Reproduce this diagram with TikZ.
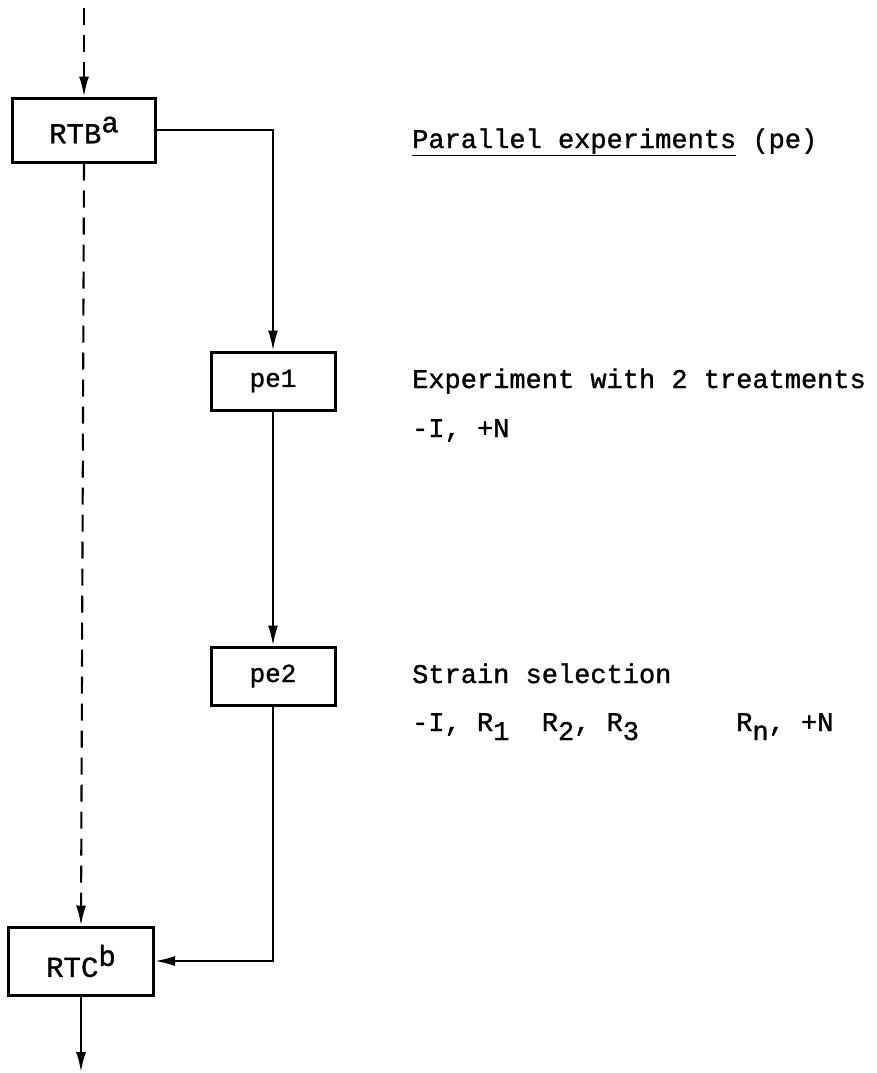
\documentclass[tikz,border=0pt]{standalone}
\usepackage{fontspec}
\setmonofont[FakeBold=1.2]{Liberation Mono}
\usetikzlibrary{arrows.meta}
\newcommand\lowr[1]{\raisebox{-9pt}{#1}}
\newcommand\highr[1]{\raisebox{11pt}{#1}}
\tikzset{
  box/.style={draw, line width=3pt, inner sep=0pt, font=\fontsize{26}{30}\selectfont\ttfamily},
  bigbox/.style={box, font=\fontsize{29}{34}\selectfont\ttfamily},
  conn/.style={line width=2.1pt, -{Latex[length=20pt,width=10pt]}},
  dashconn/.style={conn, dash pattern=on 17pt off 10pt},
  lbl/.style={anchor=base west, inner sep=0pt, font=\fontsize{27}{32}\selectfont\ttfamily},
}
\begin{document}
\begin{tikzpicture}[x=1pt,y=-1pt]
\useasboundingbox (0,0) rectangle (876,1073);
% boxes
\node[bigbox, minimum width=143pt, minimum height=64pt] (rtb) at (84,130) {RTB\highr{a}};
\node[box, minimum width=124pt, minimum height=58pt] (pe1) at (273,381) {pe1};
\node[box, minimum width=124pt, minimum height=58pt] (pe2) at (273,676) {pe2};
\node[bigbox, minimum width=145pt, minimum height=68pt] (rtc) at (81,961) {RTC\highr{b}};
% free ends
\coordinate (top) at (84,8);
\coordinate (bot) at (81,1072);
% connectors
\draw[dashconn] (top) -- (rtb.north);
\draw[dashconn] (rtb.south) -- (rtc.north);
\draw[conn] (rtb.east) -| (pe1.north);
\draw[conn] (pe1.south) -- (pe2.north);
\draw[conn] (pe2.south) |- (rtc.east);
\draw[conn] (rtc.south) -- (bot);
% texts
\node[lbl] (t1) at (412,148) {\underline{Parallel experiments} (pe)};
\node[lbl] (t2) at (412,388) {Experiment with 2 treatments};
\node[lbl] (t3) at (412,437) {-I, +N};
\node[lbl] (t4) at (412,683) {Strain selection};
\node[lbl] (t5) at (412,731) {-I,~R\lowr{1}~~R\lowr{2},~R\lowr{3}~~~~~~R\lowr{n},~+N};
\end{tikzpicture}
\end{document}
